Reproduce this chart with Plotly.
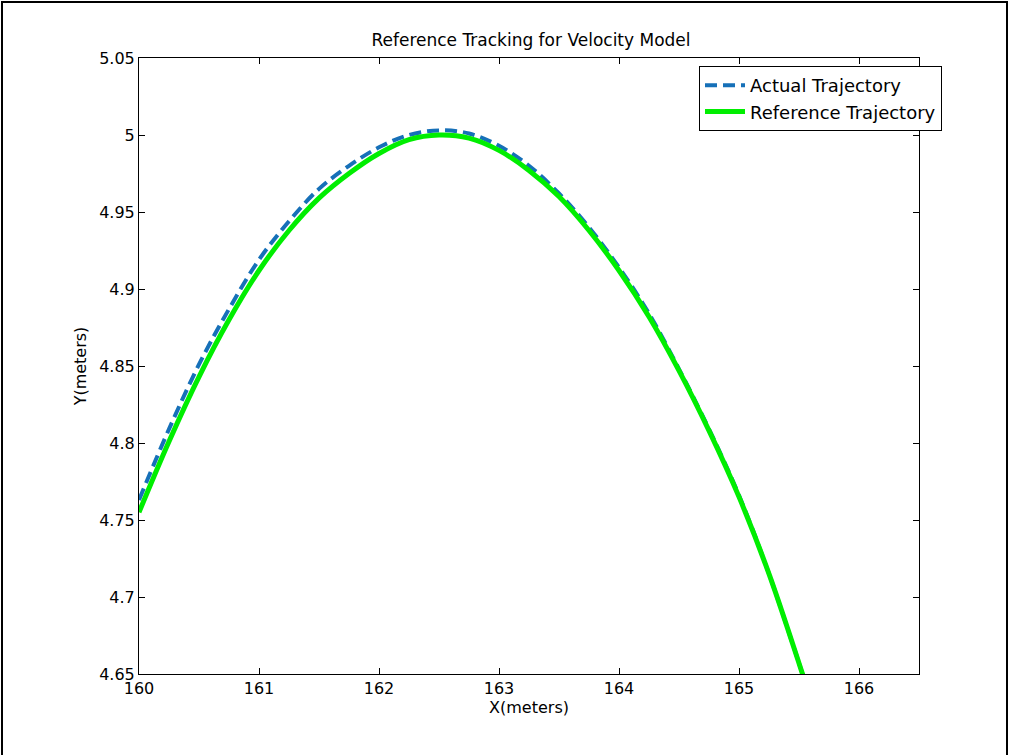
import plotly.graph_objects as go

x_ref = [160.00, 160.25, 160.50, 160.75, 161.00, 161.25, 161.50, 161.75, 162.00, 162.25,
         162.50, 162.75, 163.00, 163.25, 163.50, 163.75, 164.00, 164.25, 164.50, 164.75,
         165.00, 165.25, 165.50, 165.55]
y_ref = [4.755, 4.801, 4.843, 4.880, 4.912, 4.938, 4.959, 4.975, 4.988, 4.997,
         5.000, 4.998, 4.990, 4.977, 4.960, 4.938, 4.912, 4.882, 4.847, 4.808,
         4.765, 4.715, 4.657, 4.645]

x_act = [160.00, 160.25, 160.50, 160.75, 161.00, 161.25, 161.50, 161.75, 162.00, 162.25,
         162.50, 162.75, 163.00, 163.25, 163.50, 163.75, 164.00, 164.25, 164.50, 164.75,
         165.00, 165.25, 165.50, 165.55]
y_act = [4.763, 4.809, 4.851, 4.887, 4.919, 4.944, 4.965, 4.980, 4.992, 5.000,
         5.003, 5.001, 4.993, 4.980, 4.962, 4.940, 4.914, 4.884, 4.848, 4.809,
         4.766, 4.715, 4.657, 4.645]

x_ticks = [160, 161, 162, 163, 164, 165, 166]
y_ticks = [4.65, 4.7, 4.75, 4.8, 4.85, 4.9, 4.95, 5.0, 5.05]
y_tick_text = ["4.65", "4.7", "4.75", "4.8", "4.85", "4.9", "4.95", "5", "5.05"]

W, H = 1010, 755
ML, MR, MT, MB = 139, 91, 58, 81

fig = go.Figure()
fig.add_trace(go.Scatter(x=x_act, y=y_act, mode="lines", name="Actual Trajectory",
                         line=dict(color="#1670b8", width=4, dash="12px,6px",
                                   shape="spline", smoothing=1.0)))
fig.add_trace(go.Scatter(x=x_ref, y=y_ref, mode="lines", name="Reference Trajectory",
                         line=dict(color="#00ee00", width=5, shape="spline", smoothing=1.0)))

font_fam = "DejaVu Sans, Arial, sans-serif"
axis_common = dict(showline=True, linecolor="black", linewidth=1, mirror="allticks",
                   ticks="inside", ticklen=6, tickcolor="black", showgrid=False,
                   zeroline=False, tickfont=dict(family=font_fam, size=16, color="black"))

fig.update_layout(
    width=W, height=H,
    margin=dict(l=ML, r=MR, t=MT, b=MB),
    paper_bgcolor="white", plot_bgcolor="white",
    title=dict(text="Reference Tracking for Velocity Model", x=(531) / W, xanchor="center",
               y=1 - 40 / H, yanchor="middle",
               font=dict(family=font_fam, size=17, color="black")),
    xaxis=dict(range=[160, 166.5], tickvals=x_ticks,
               title=dict(text="X(meters)", standoff=3,
                          font=dict(family=font_fam, size=16, color="black")),
               **axis_common),
    yaxis=dict(range=[4.65, 5.05], tickvals=y_ticks, ticktext=y_tick_text,
               title=dict(text="Y(meters)", standoff=8,
                          font=dict(family=font_fam, size=16, color="black")),
               **axis_common),
    legend=dict(x=(699 - ML) / (W - ML - MR), y=(H - MB - 66) / (H - MT - MB),
                xanchor="left", yanchor="top", bgcolor="white",
                bordercolor="black", borderwidth=1,
                font=dict(family=font_fam, size=18, color="black"),
                tracegroupgap=0, itemwidth=40),
    showlegend=True,
)

# figure frame
pw, ph = W - ML - MR, H - MT - MB
fig.add_shape(type="rect", xref="paper", yref="paper",
              x0=(2 - ML) / pw, x1=(W - 3 - ML) / pw,
              y0=(MB - (H - 3)) / ph, y1=(H - 2 - MB) / ph,
              line=dict(color="black", width=2), layer="above")

fig.write_html("out.html", config={"displayModeBar": False},
               post_script="document.body.style.margin='0';document.body.style.overflow='hidden';")
